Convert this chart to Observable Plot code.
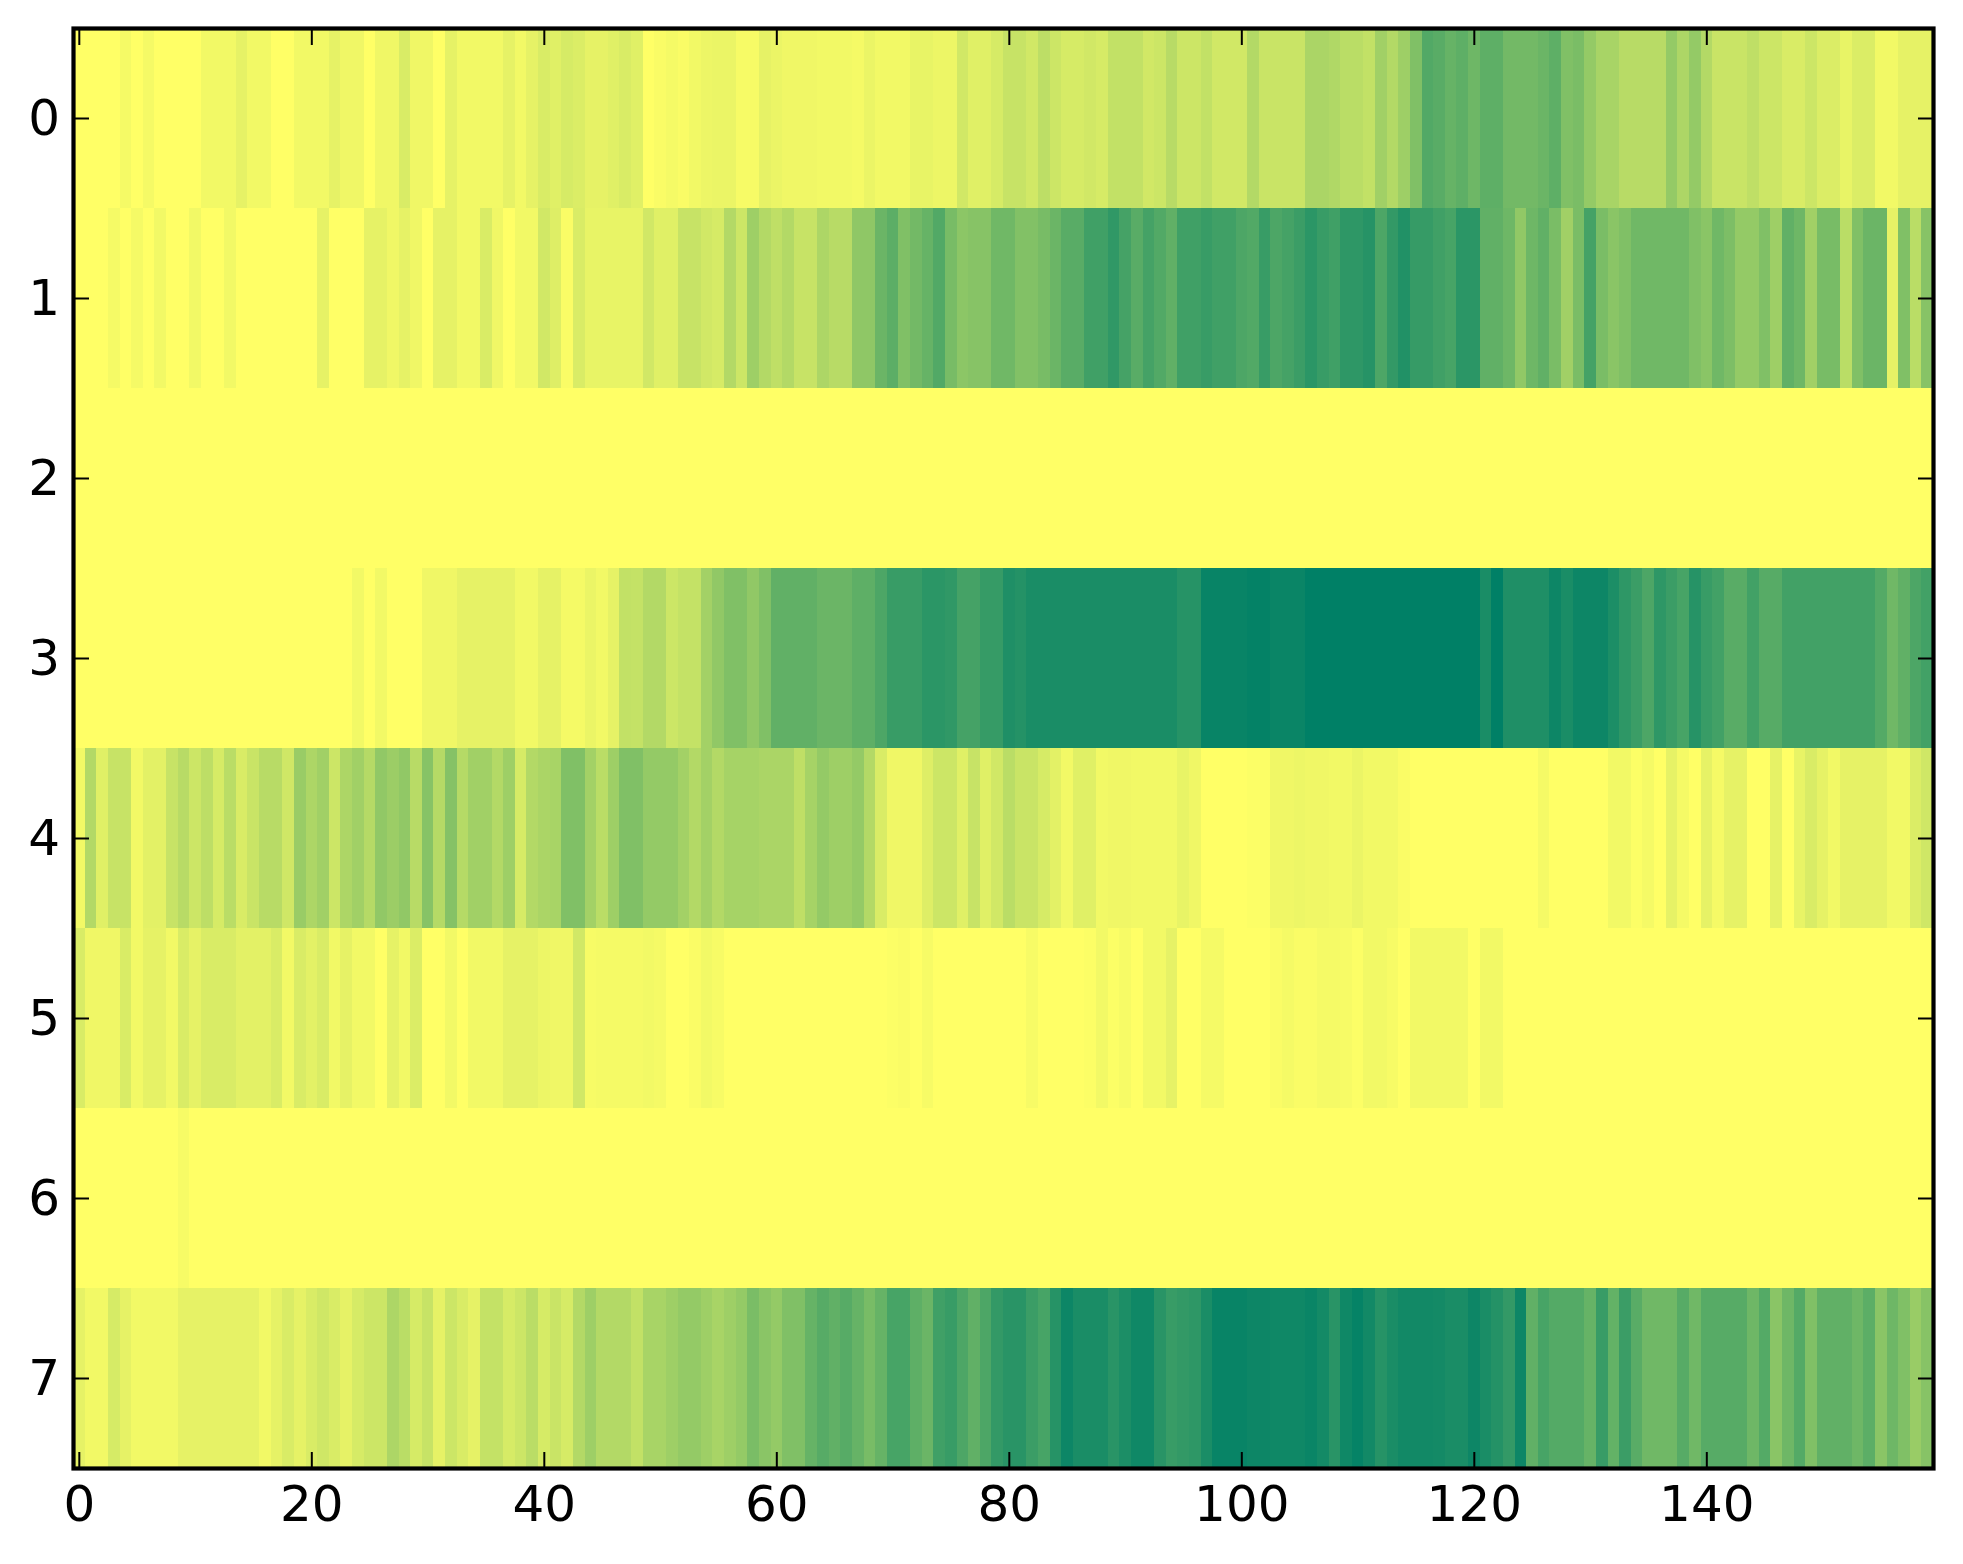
<!DOCTYPE html>
<html>
<head>
<meta charset="utf-8">
<style>html,body{margin:0;padding:0;background:#fff}svg{display:block}</style>
<script src="https://cdn.jsdelivr.net/npm/d3@7"></script>
<script src="https://cdn.jsdelivr.net/npm/@observablehq/plot@0.6"></script>
</head>
<body>
<div id="chart"></div>
<script>
const xTicks = [0,20,40,60,80,100,120,140];
const yTicks = [0,1,2,3,4,5,6,7];
const colorRange = ["#ffff66","#008066"];
const row0 = [
0,0,0,0,.04,0,.04,0,0,0,
0,.05,.05,.05,.1,.05,.05,0,0,.05,
.05,.05,.1,.06,.06,0,.06,.06,.15,.06,
.06,0,.1,.05,.05,.05,.05,.1,.05,.1,
.15,.12,.16,.14,.1,.1,.12,.15,.12,0,
.02,.04,.02,.05,.07,.08,.08,.03,.03,.1,
.08,.06,.06,.06,.05,.05,.05,.04,.08,.05,
.05,.05,.09,.09,.07,.07,.18,.12,.12,.16,
.22,.22,.18,.26,.2,.16,.16,.18,.16,.24,
.24,.24,.18,.2,.28,.2,.2,.24,.18,.18,
.18,.3,.21,.21,.21,.21,.33,.33,.31,.27,
.27,.24,.37,.3,.38,.5,.68,.65,.6,.63,
.57,.63,.63,.55,.55,.55,.58,.63,.5,.52,
.42,.34,.34,.28,.28,.28,.28,.42,.32,.42,
.3,.21,.21,.21,.25,.2,.2,.15,.15,.2,
.14,.14,.09,.14,.14,.05,.05,.1,.1,.1];
const row1 = [
0,0,0,.04,0,.04,0,.05,0,0,
.05,0,0,.05,0,0,0,0,0,0,
0,.1,0,0,0,.1,.1,.06,.1,.06,
0,.1,.1,.05,.05,.15,.06,0,.05,.05,
.18,.13,.02,.15,.09,.09,.09,.09,.09,.18,
.12,.12,.22,.22,.18,.16,.3,.2,.38,.3,
.25,.3,.22,.22,.32,.28,.28,.44,.44,.58,
.64,.5,.55,.6,.68,.53,.45,.47,.47,.56,
.56,.49,.49,.53,.58,.65,.65,.75,.75,.81,
.73,.65,.73,.68,.62,.75,.75,.78,.75,.75,
.7,.68,.78,.7,.73,.77,.83,.78,.75,.82,
.82,.85,.7,.8,.87,.79,.79,.75,.72,.83,
.83,.62,.62,.57,.43,.57,.62,.52,.37,.52,
.73,.52,.46,.5,.56,.56,.56,.56,.56,.5,
.46,.56,.51,.42,.42,.5,.38,.62,.57,.37,
.53,.53,.27,.5,.58,.58,.1,.5,.27,.47];
const row2 = [
0,0,0,0,0,0,0,0,0,0,0,0,0,0,0,0,0,0,0,0,
0,0,0,0,0,0,0,0,0,0,0,0,0,0,0,0,0,0,0,0,
0,0,0,0,0,0,0,0,0,0,0,0,0,0,0,0,0,0,0,0,
0,0,0,0,0,0,0,0,0,0,0,0,0,0,0,0,0,0,0,0,
0,0,0,0,0,0,0,0,0,0,0,0,0,0,0,0,0,0,0,0,
0,0,0,0,0,0,0,0,0,0,0,0,0,0,0,0,0,0,0,0,
0,0,0,0,0,0,0,0,0,0,0,0,0,0,0,0,0,0,0,0,
0,0,0,0,0,0,0,0,0,0,0,0,0,0,0,0,0,0,0,0];
const row3 = [
0,0,0,0,0,0,0,0,0,0,
0,0,0,0,0,0,0,0,0,0,
0,0,0,0,.05,0,.05,0,0,0,
.06,.06,.06,.1,.1,.1,.1,.1,.05,.05,
.1,.1,.04,.04,.08,.05,.1,.24,.23,.3,
.3,.2,.23,.23,.36,.43,.5,.5,.43,.5,
.62,.62,.62,.62,.58,.58,.58,.63,.63,.7,
.78,.78,.78,.83,.83,.81,.73,.73,.79,.79,
.88,.86,.9,.9,.9,.9,.9,.9,.9,.9,
.9,.9,.9,.9,.9,.85,.85,.97,.97,.97,
.97,.985,.985,.96,.96,.96,1,1,1,1,
1,1,1,1,1,1,1,1,1,1,
1,.9,1,.88,.88,.88,.88,.95,.9,.95,
.95,.95,.89,.82,.77,.7,.82,.77,.72,.85,
.78,.74,.65,.65,.74,.66,.66,.74,.74,.74,
.74,.74,.74,.74,.74,.67,.56,.62,.7,.74];
const row4 = [
.05,.3,.12,.22,.22,.05,.11,.11,.22,.28,
.2,.26,.16,.27,.15,.21,.28,.28,.19,.4,
.32,.37,.2,.32,.37,.29,.43,.39,.43,.28,
.47,.29,.48,.29,.37,.37,.3,.38,.16,.3,
.33,.34,.5,.5,.36,.27,.38,.5,.5,.42,
.42,.42,.36,.3,.36,.3,.35,.35,.35,.33,
.33,.33,.25,.35,.42,.38,.38,.42,.3,.15,
.06,.06,.06,.13,.2,.2,.12,.22,.12,.18,
.27,.21,.21,.16,.11,.05,.12,.12,.05,.06,
.06,.05,.05,.05,.05,.09,.06,0,0,0,
0,.01,.01,.06,.06,.07,.06,.06,.05,.05,
.08,.05,.05,.05,.02,0,0,0,0,0,
0,0,0,0,0,0,.04,0,0,0,
0,0,.05,.05,.01,.04,0,.1,.04,0,
.1,.04,.1,.1,0,0,.1,0,.09,.15,
.1,.05,.1,.1,.1,.1,.05,.05,.14,.19];
const row5 = [
.15,.06,.06,.06,.15,.05,.1,.1,.05,.15,
.1,.15,.15,.15,.11,.11,.11,.15,.05,.15,
.11,.15,.05,.1,.05,.05,0,.1,.05,.14,
0,0,.05,0,.05,.05,.05,.1,.1,.1,
.07,.06,.06,.18,.03,.04,.04,.04,.04,.05,
.04,0,0,.02,.05,.03,0,0,0,0,
0,0,0,0,0,0,0,0,0,0,
.01,.02,0,.03,0,0,0,0,0,0,
0,0,.03,0,0,0,0,.01,.05,.01,
.03,0,.05,.05,.1,0,0,.04,.04,0,
0,0,0,.02,.04,.02,.02,.04,.04,.03,
.01,.05,.05,.03,0,.05,.05,.05,.05,.05,
0,.05,.05,0,0,0,0,0,0,0,
0,0,0,0,0,0,0,0,0,0,
0,0,0,0,0,0,0,0,0,0,
0,0,0,0,0,0,0,0,0,0];
const row6 = [
0,0,0,0,0,0,0,0,0,.03,0,0,0,0,0,0,0,0,0,0,
0,0,0,0,0,0,0,0,0,0,0,0,0,0,0,0,0,0,0,0,
0,0,0,0,0,0,0,0,0,0,0,0,0,0,0,0,0,0,0,0,
0,0,0,0,0,0,0,0,0,0,0,0,0,0,0,0,0,0,0,0,
0,0,0,0,0,0,0,0,0,0,0,0,0,0,0,0,0,0,0,0,
0,0,0,0,0,0,0,0,0,0,0,0,0,0,0,0,0,0,0,0,
0,0,0,0,0,0,0,0,0,0,0,0,0,0,0,0,0,0,0,0,
0,0,0,0,0,0,0,0,0,0,0,0,0,0,0,0,0,0,0,0];
const row7 = [
.1,.05,.05,.16,.1,.05,.05,.05,.05,.1,
.1,.1,.1,.1,.1,.1,.05,.1,.15,.1,
.15,.19,.15,.1,.16,.2,.2,.32,.27,.16,
.22,.1,.2,.15,.1,.23,.23,.16,.2,.27,
.16,.21,.16,.3,.38,.3,.3,.3,.24,.34,
.34,.38,.42,.42,.38,.34,.38,.42,.52,.46,
.42,.5,.5,.6,.66,.62,.66,.6,.53,.6,
.72,.72,.63,.58,.75,.78,.7,.62,.7,.8,
.84,.84,.77,.72,.85,.95,.9,.9,.9,.84,
.89,.94,.94,.84,.78,.8,.82,.9,.97,.97,
.97,.95,.95,.94,.94,.94,.96,.92,.84,.94,
.98,.93,.85,.9,.93,.93,.93,.92,.9,.9,
.95,.9,.86,.8,.95,.62,.72,.67,.67,.67,
.6,.78,.61,.77,.65,.56,.56,.56,.66,.56,
.66,.66,.66,.66,.57,.67,.46,.57,.67,.5,
.62,.62,.62,.57,.64,.46,.57,.5,.4,.47];

const rows = [row0,row1,row2,row3,row4,row5,row6,row7];
const cells = rows.flatMap((r,j)=>r.map((v,i)=>({col:i,row:j,v})));
const font = {fontSize:50};
const chart = Plot.plot({
  width:1963, height:1564,
  marginLeft:73, marginRight:30, marginTop:28, marginBottom:96,
  style:{fontFamily:"'DejaVu Sans'",background:"#fff",color:"#000",overflow:"visible"},
  x:{type:"band",domain:rows[0].map((_,i)=>i),padding:0,round:false},
  y:{type:"band",domain:yTicks,padding:0,round:false},
  color:{type:"linear",domain:[0,1],range:colorRange,interpolate:"rgb"},
  marks:[
    Plot.cell(cells,{x:"col",y:"row",fill:"v",shapeRendering:"crispEdges"}),
    Plot.axisX({anchor:"bottom",ticks:xTicks,tickSize:-16,tickPadding:33,strokeWidth:2,label:null,...font}),
    Plot.axisX({anchor:"top",ticks:xTicks,tickSize:-16,strokeWidth:2,label:null,tickFormat:()=>""}),
    Plot.axisY({anchor:"left",ticks:yTicks,tickSize:-16,tickPadding:29.5,strokeWidth:2,label:null,...font}),
    Plot.axisY({anchor:"right",ticks:yTicks,tickSize:-16,strokeWidth:2,label:null,tickFormat:()=>""}),
    Plot.frame({stroke:"#000",strokeWidth:4.2,fill:"none"})
  ]
});
document.getElementById("chart").appendChild(chart);
</script>
</body>
</html>
